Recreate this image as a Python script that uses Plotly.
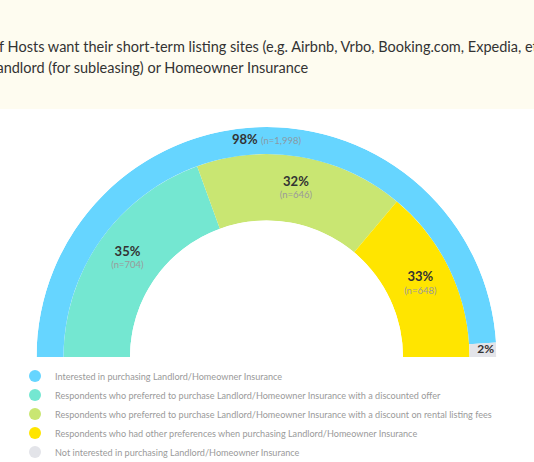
import plotly.graph_objects as go

# ---- data ----
outer_labels = ["Interested in purchasing Landlord/Homeowner Insurance",
                "Not interested in purchasing Landlord/Homeowner Insurance"]
outer_values = [98, 2]
outer_n = ["1,998", ""]

inner_labels = ["Respondents who preferred to purchase Landlord/Homeowner Insurance with a discounted offer",
                "Respondents who preferred to purchase Landlord/Homeowner Insurance with a discount on rental listing fees",
                "Respondents who had other preferences when purchasing Landlord/Homeowner Insurance"]
inner_pct_labels = [35, 32, 33]
inner_n = ["704", "646", "648"]
# drawn arc shares as they appear in the picture
inner_values = [38.9, 33.3, 27.8]

title_line1 = "of Hosts want their short-term listing sites (e.g. Airbnb, Vrbo, Booking.com, Expedia, etc.) to offer"
title_line2 = "Landlord (for subleasing) or Homeowner Insurance"

# ---- style ----
c_blue, c_gray = "#66D5FF", "#E3E4E9"
c_teal, c_green, c_yellow = "#74E7D1", "#C9E672", "#FFE500"
outer_colors = [c_blue, c_gray]
inner_colors = [c_teal, c_green, c_yellow]
W, H = 534, 462
R_IN_TOP = 71.1  # radial split between inner and outer rings (axis units 0..100)

fig = go.Figure()

def arcs(values):
    tot = sum(values)
    start, out = 0.0, []
    for v in values:
        span = v / tot * 180.0
        out.append((start + span / 2, span))
        start += span
    return out

# inner ring
for (mid, span), col, lab in zip(arcs(inner_values), inner_colors, inner_labels):
    fig.add_trace(go.Barpolar(theta=[mid], width=[span], r=[R_IN_TOP], base=[0],
                              marker=dict(color=col, line=dict(width=0)),
                              showlegend=False, hoverinfo="skip", name=lab))
# outer ring
for (mid, span), col, lab in zip(arcs(outer_values), outer_colors, outer_labels):
    fig.add_trace(go.Barpolar(theta=[mid], width=[span], r=[100 - R_IN_TOP], base=[R_IN_TOP],
                              marker=dict(color=col, line=dict(width=0)),
                              showlegend=False, hoverinfo="skip", name=lab))

# labels inner ring
in_arcs = arcs(inner_values)
fig.add_trace(go.Scatterpolar(
    theta=[a[0] for a in in_arcs], r=[R_IN_TOP / 2] * 3, mode="text",
    text=[f"<span style='font-size:13px;color:#333333'><b>{p}%</b></span><br>(n={n})"
          for p, n in zip(inner_pct_labels, inner_n)],
    textfont=dict(family="Lato", size=9.5, color="#9a9a9a"),
    showlegend=False, hoverinfo="skip"))
# outer labels
out_arcs = arcs(outer_values)
fig.add_trace(go.Scatterpolar(
    theta=[90, out_arcs[1][0]], r=[(100 + R_IN_TOP) / 2, (100 + R_IN_TOP) / 2 + 3], mode="text",
    text=[f"<b>{outer_values[0]}%</b> <span style='font-size:9.5px;color:#8a9aa5'>(n={outer_n[0]})</span>",
          f"<span style='font-size:12px'><b>{outer_values[1]}%</b></span>"],
    textfont=dict(family="Lato", size=13, color="#333333"),
    showlegend=False, hoverinfo="skip"))

# legend proxies
legend_items = [(outer_labels[0], c_blue)] + list(zip(inner_labels, inner_colors)) + [(outer_labels[1], c_gray)]
for lab, col in legend_items:
    fig.add_trace(go.Scatterpolar(r=[None], theta=[None], mode="markers", name=lab,
                                  marker=dict(color=col, size=11, symbol="circle"),
                                  showlegend=True, hoverinfo="skip"))

fig.update_layout(
    width=W, height=H,
    margin=dict(l=0, r=0, t=0, b=0, pad=0, autoexpand=False),
    paper_bgcolor="white",
    polar=dict(
        domain=dict(x=[36.5 / W, 496.5 / W], y=[105 / H, 335 / H]),
        sector=[0, 180], hole=136.5 / 230,
        bgcolor="rgba(0,0,0,0)",
        radialaxis=dict(range=[0, 100], visible=False),
        angularaxis=dict(direction="clockwise", rotation=180,
                         visible=False, showgrid=False, showline=False, ticks=""),
    ),
    showlegend=True,
    legend=dict(x=15 / W, xanchor="left", y=1 - 361.5 / H, yanchor="top",
                font=dict(family="Lato", size=9.1, color="#9a9a9a"),
                itemsizing="constant", bgcolor="rgba(0,0,0,0)"),
    shapes=[dict(type="rect", xref="paper", yref="paper", x0=0, x1=1,
                 y0=1 - 109 / H, y1=1, fillcolor="#FEFCF0", line=dict(width=0), layer="below")],
    annotations=[
        dict(text=title_line1, xref="paper", yref="paper", x=-11 / W, y=1 - 57 / H,
             xanchor="left", yanchor="bottom", showarrow=False,
             font=dict(family="Lato", size=14.5, color="#333333")),
        dict(text=title_line2, xref="paper", yref="paper", x=-13 / W, y=1 - 78 / H,
             xanchor="left", yanchor="bottom", showarrow=False,
             font=dict(family="Lato", size=14.5, color="#333333")),
    ],
)

fig.write_html("out.html", config={"displayModeBar": False},
               post_script="document.body.style.margin='0';")
